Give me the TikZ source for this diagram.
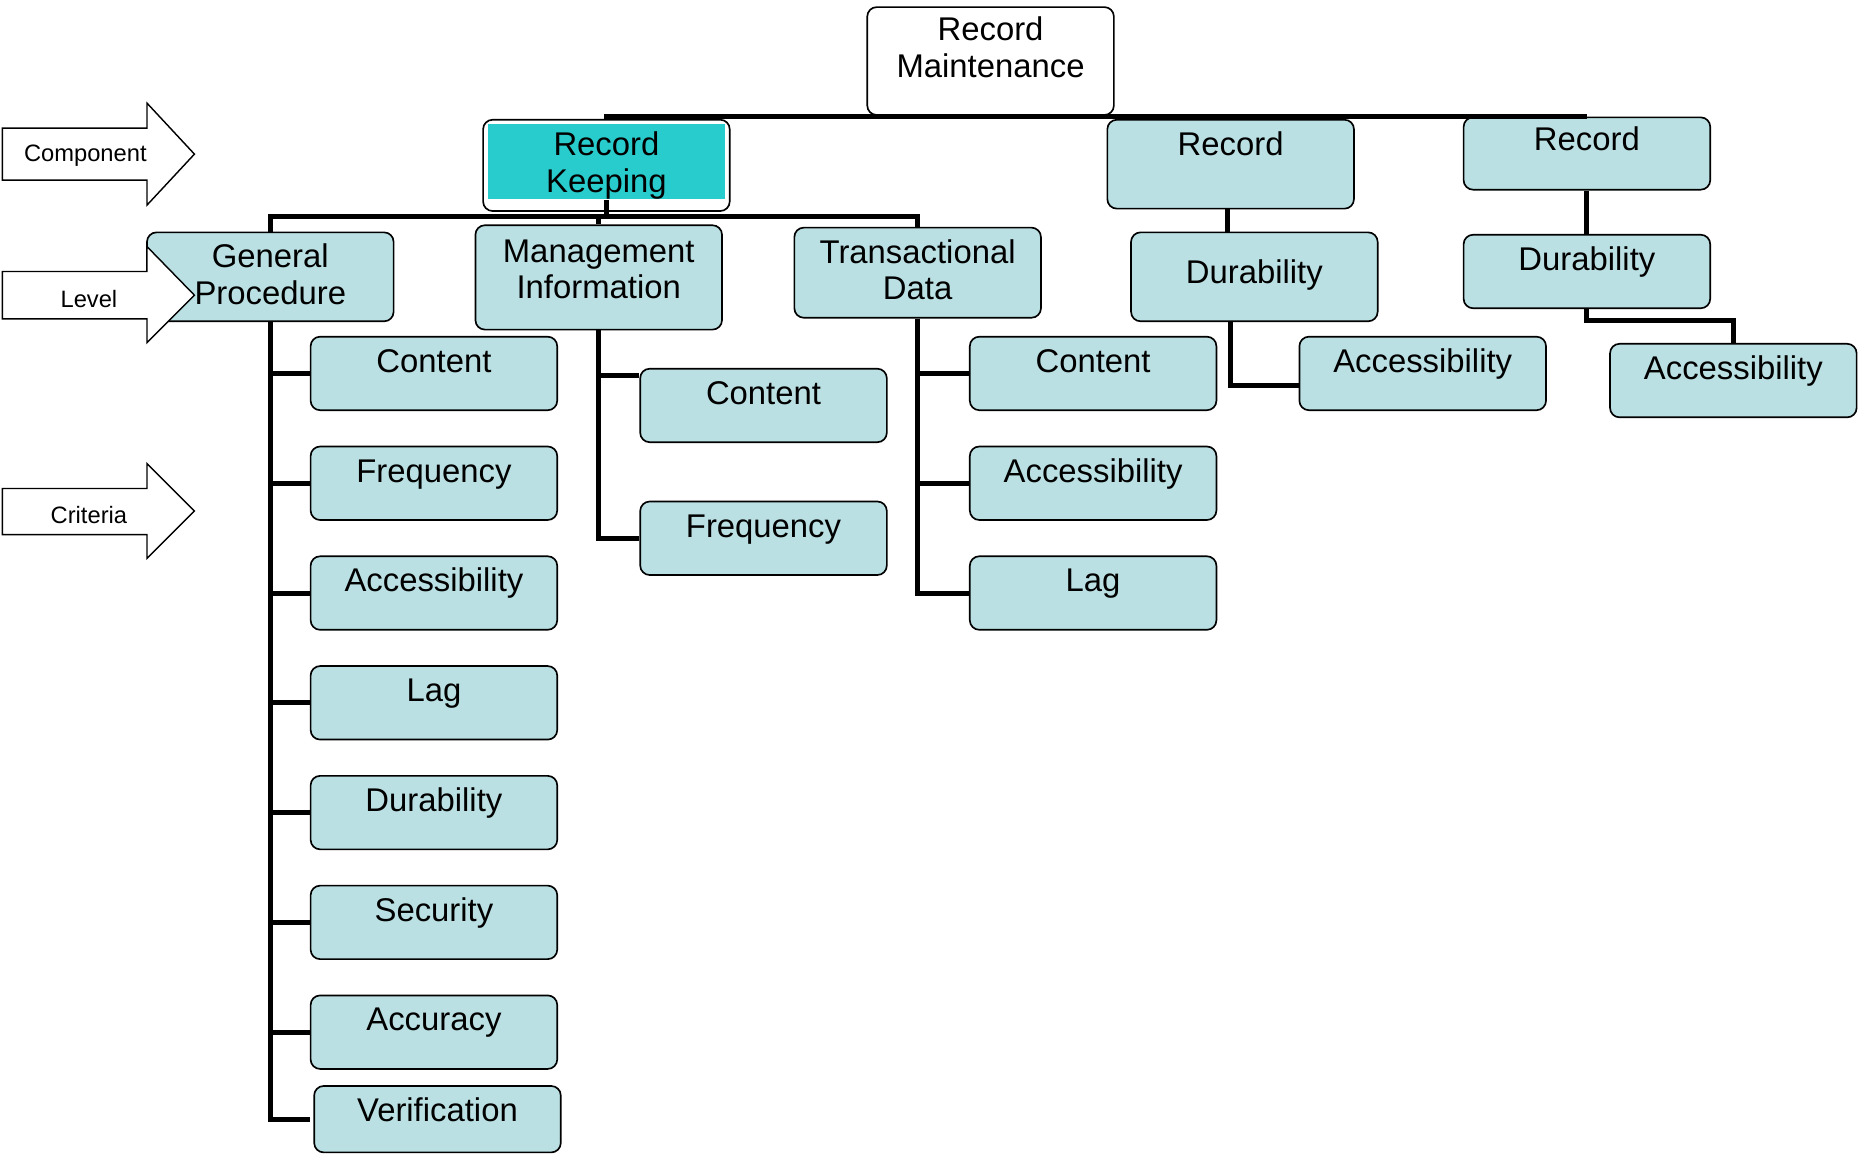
\documentclass[tikz,border=0pt]{standalone}
\usepackage{fontspec}
\setmainfont{Liberation Sans}
\usetikzlibrary{positioning}

\definecolor{boxfill}{RGB}{186,224,227}
\definecolor{rkcyan}{RGB}{41,204,204}

\begin{document}
\begin{tikzpicture}[%
x=1pt, y=-1pt,
node distance=29.2pt,
crit/.style={draw=black, line width=1.4pt, rounded corners=8pt, fill=boxfill,
  minimum width=208pt, inner sep=0pt, align=center,
  text height=30pt, text depth=32pt,
  font=\fontsize{27.7}{31}\selectfont},
conn/.style={draw=black, line width=4.2pt},
side/.style={draw=black, line width=1.2pt, fill=white},
sidetext/.style={font=\fontsize{20}{24}\selectfont}
]
\useasboundingbox (0,0) rectangle (1568,973);

% top and components
\node[crit, fill=white, text height=59pt, text depth=32pt] (rm) at (835.5,51.5) {Record\\Maintenance};
\node[crit, fill=white, text height=61pt, text depth=16pt,
  path picture={\fill[rkcyan, sharp corners] ([xshift=4pt,yshift=-4pt]path picture bounding box.north west)
    rectangle ([xshift=-4pt,yshift=10pt]path picture bounding box.south east);}] (rk) at (511.5,139.5) {Record\\Keeping};
\node[crit, text depth=45pt] (rmid) at (1038,138.5) {Record};
\node[crit, text height=28pt, text depth=33pt] (rr) at (1338.5,129.5) {Record};

% levels
\node[crit, text height=61pt, text depth=14pt] (gp) at (228,233.5) {General\\Procedure};
\node[crit, text height=62pt, text depth=26pt] (mi) at (505,234) {Management\\Information};
\node[crit, text height=61pt, text depth=15pt] (td) at (774,230) {Transactional\\Data};
\node[crit, text height=43pt] (dmid) at (1058,233.5) {Durability};
\node[crit] (dr) at (1338.5,229) {Durability};

% criteria
\node[crit] (gp1) at (366,315) {Content};
\node[crit] (gp2) [below=of gp1] {Frequency};
\node[crit] (gp3) [below=of gp2] {Accessibility};
\node[crit] (gp4) [below=of gp3] {Lag};
\node[crit] (gp5) [below=of gp4] {Durability};
\node[crit] (gp6) [below=of gp5] {Security};
\node[crit] (gp7) [below=of gp6] {Accuracy};
\node[crit, text depth=26pt] (gp8) at (369,944) {Verification};

\node[crit] (mi1) at (644,342) {Content};
\node[crit] (mi2) at (644,454) {Frequency};

\node[crit] (td1) at (922,315) {Content};
\node[crit] (td2) [below=of td1] {Accessibility};
\node[crit] (td3) [below=of td2] {Lag};

\node[crit] (amid) at (1200,315) {Accessibility};
\node[crit] (ar) at (1462,321) {Accessibility};

% links
\coordinate (lvlbar) at (0,183);
\draw[conn] (rk.north) |- (rr.north);
\draw[conn] (rm.south) -- (rm.south |- rr.north);
\draw[conn] ([yshift=10pt]rk.south) -- (rk.south |- lvlbar);
\draw[conn] (gp.north) |- (lvlbar -| td.north) -- (td.north);
\draw[conn] (mi.north) -- (mi.north |- lvlbar);

\draw[conn] (gp.south) |- (gp1.west);
\draw[conn] (gp.south) |- (gp2.west);
\draw[conn] (gp.south) |- (gp3.west);
\draw[conn] (gp.south) |- (gp4.west);
\draw[conn] (gp.south) |- (gp5.west);
\draw[conn] (gp.south) |- (gp6.west);
\draw[conn] (gp.south) |- (gp7.west);
\draw[conn] (gp.south) |- ([xshift=-3pt]gp8.west);

\draw[conn] (mi.south) |- ([yshift=25pt]mi1.west);
\draw[conn] (mi.south) |- (mi2.west);

\draw[conn] (td.south) |- (td1.west);
\draw[conn] (td.south) |- (td2.west);
\draw[conn] (td.south) |- (td3.west);

\draw[conn] ([xshift=-3pt]rmid.south) -- ([xshift=-3pt]rmid.south |- dmid.north);
\draw[conn] (dmid.south -| rmid.south) |- ([yshift=-10pt]amid.west);
\draw[conn] (rr.south) -- (dr.north);
\draw[conn] (dr.south) -- ++(0,10) -| (ar.north);

% side arrows
\draw[side] (2,108) -- (124,108) -- (124,87) -- (164,130) -- (124,173) -- (124,152) -- (2,152) -- cycle;
\node[sidetext] (component) at (72,131) {Component};
\draw[side] (2,229) -- (124,229) -- (124,208) -- (164,249) -- (124,289) -- (124,269) -- (2,269) -- cycle;
\node[sidetext] (level) at (75,252) {Level};
\draw[side] (2,412) -- (124,412) -- (124,391) -- (164,431) -- (124,471) -- (124,451) -- (2,451) -- cycle;
\node[sidetext] (criteria) at (75,434) {Criteria};
\end{tikzpicture}
\end{document}
